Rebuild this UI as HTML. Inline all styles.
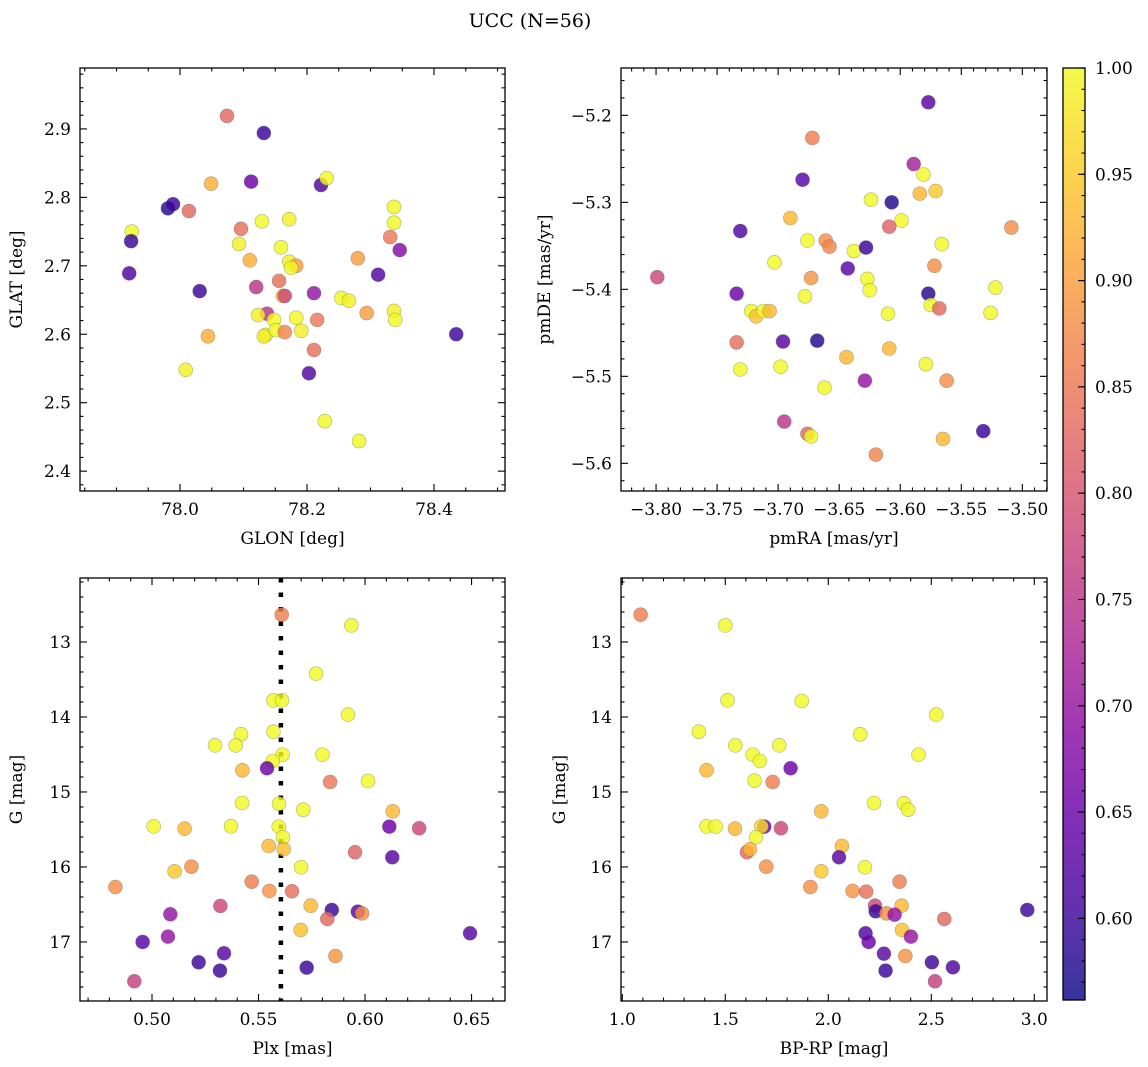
<!DOCTYPE html>
<html><head><meta charset="utf-8"><style>
html,body{margin:0;padding:0;background:#fff;}
svg{display:block;font-family:"DejaVu Serif","Liberation Serif",serif;}
</style></head><body>
<svg id="fig" width="1148" height="1067" viewBox="0 0 1148 1067" xmlns="http://www.w3.org/2000/svg">
<defs>
<linearGradient id="plasma" x1="0" y1="1" x2="0" y2="0">
<stop offset="0" stop-color="#0d0887"/><stop offset="0.1" stop-color="#41049d"/><stop offset="0.2" stop-color="#6a00a8"/><stop offset="0.3" stop-color="#8f0da4"/><stop offset="0.4" stop-color="#b12a90"/><stop offset="0.5" stop-color="#cc4778"/><stop offset="0.6" stop-color="#e16462"/><stop offset="0.7" stop-color="#f2844b"/><stop offset="0.8" stop-color="#fca636"/><stop offset="0.9" stop-color="#fcce25"/><stop offset="1" stop-color="#f0f921"/>
</linearGradient>
</defs>
<text x="530" y="27" font-size="19" text-anchor="middle">UCC (N=56)</text>
</svg>
<script>
// ---- data ----
const glon=[78.074,78.132,78.049,78.112,77.981,77.989,77.924,78.014,78.222,78.231,78.129,78.172,78.096,77.923,78.093,78.159,78.337,78.337,78.346,77.920,78.110,78.172,78.183,78.175,78.280,78.331,78.031,78.120,78.156,78.162,78.165,78.254,78.266,78.312,78.211,78.137,78.123,78.183,78.216,78.148,78.337,78.339,78.294,78.044,78.135,78.132,78.151,78.165,78.191,78.211,78.435,78.203,78.009,78.228,78.282];
const glat=[2.919,2.894,2.820,2.823,2.784,2.790,2.750,2.780,2.818,2.828,2.765,2.768,2.754,2.736,2.732,2.727,2.786,2.763,2.723,2.689,2.708,2.706,2.700,2.697,2.711,2.742,2.663,2.669,2.678,2.656,2.656,2.653,2.649,2.687,2.660,2.630,2.628,2.624,2.621,2.621,2.634,2.621,2.631,2.597,2.599,2.597,2.606,2.603,2.605,2.577,2.600,2.543,2.548,2.473,2.444];
const probTL=[.83,.60,.92,.65,.58,.60,1,.83,.62,1,1,.99,.84,.60,.99,1,1,1,.68,.62,.92,.99,.90,1,.90,.85,.60,.75,.84,.95,.78,1,.99,.62,.70,.75,.99,1,.85,1,.99,1,.90,.92,1,.99,1,.87,.99,.84,.60,.62,.99,1,1];

const pmra=[-3.577,-3.672,-3.589,-3.581,-3.680,-3.584,-3.571,-3.624,-3.607,-3.690,-3.599,-3.609,-3.509,-3.731,-3.676,-3.661,-3.658,-3.638,-3.628,-3.566,-3.703,-3.643,-3.572,-3.799,-3.673,-3.627,-3.625,-3.678,-3.734,-3.577,-3.522,-3.722,-3.718,-3.712,-3.707,-3.575,-3.568,-3.610,-3.526,-3.734,-3.696,-3.668,-3.609,-3.644,-3.731,-3.698,-3.579,-3.629,-3.562,-3.662,-3.695,-3.676,-3.673,-3.532,-3.565,-3.620];
const pmde=[-5.185,-5.226,-5.256,-5.268,-5.274,-5.290,-5.287,-5.297,-5.300,-5.318,-5.321,-5.328,-5.329,-5.333,-5.344,-5.344,-5.351,-5.356,-5.352,-5.348,-5.369,-5.376,-5.373,-5.386,-5.387,-5.388,-5.401,-5.408,-5.405,-5.405,-5.398,-5.425,-5.431,-5.425,-5.425,-5.418,-5.422,-5.428,-5.427,-5.461,-5.460,-5.459,-5.468,-5.478,-5.492,-5.489,-5.486,-5.505,-5.505,-5.513,-5.552,-5.566,-5.569,-5.563,-5.572,-5.590];
const probTR=[.63,.86,.72,1,.63,.93,.95,1,.58,.93,1,.82,.88,.62,1,.88,.87,1,.60,1,1,.63,.88,.78,.89,1,1,1,.65,.58,1,1,.94,1,.93,1,.83,1,1,.84,.63,.58,.93,.93,1,1,1,.70,.88,1,.75,.83,1,.60,.93,.87];

const plx=[.5609,.5936,.5770,.5570,.5610,.5920,.5570,.5418,.5296,.5393,.5613,.5800,.5567,.5540,.5424,.5836,.6014,.5423,.5596,.5710,.6130,.5008,.5153,.5371,.5595,.6114,.6254,.5615,.5548,.5618,.5953,.6128,.5106,.5185,.5700,.4828,.5468,.5551,.5657,.5321,.5745,.5844,.5966,.5986,.5823,.5086,.5698,.5075,.4956,.6493,.5338,.5219,.5319,.5726,.5861,.4917];
const gmagBL=[12.636,12.778,13.422,13.778,13.778,13.969,14.196,14.231,14.378,14.378,14.502,14.502,14.587,14.684,14.711,14.867,14.853,15.147,15.156,15.236,15.258,15.458,15.489,15.458,15.462,15.462,15.484,15.604,15.720,15.764,15.804,15.871,16.058,15.996,16.004,16.267,16.196,16.320,16.324,16.520,16.516,16.573,16.596,16.618,16.693,16.631,16.840,16.929,17.000,16.884,17.151,17.271,17.382,17.342,17.187,17.524];
const probBL=[.86,1,1,1,1,1,1,1,1,1,1,1,1,.65,.93,.85,1,1,1,1,.93,1,.93,1,1,.65,.78,1,.93,.94,.82,.63,.95,.88,1,.88,.86,.89,.84,.78,.93,.60,.63,.88,.83,.70,.94,.70,.63,.63,.63,.60,.60,.60,.89,.77];
const plxMean=0.5605;

const bprp=[1.089,1.500,1.511,1.871,2.524,1.372,2.155,1.549,1.762,1.633,1.668,2.438,1.817,1.409,1.642,1.730,2.222,2.367,2.388,1.966,1.409,1.453,1.547,1.689,1.675,1.770,1.649,1.605,1.620,2.066,2.052,1.699,2.178,1.966,2.346,1.913,2.118,2.184,2.227,2.356,2.230,2.282,2.322,2.966,2.563,2.358,2.181,2.196,2.401,2.270,2.374,2.503,2.605,2.278,2.518];
const gmagBR=[12.636,12.778,13.778,13.787,13.969,14.196,14.231,14.378,14.378,14.502,14.587,14.502,14.684,14.711,14.849,14.867,15.147,15.151,15.236,15.258,15.458,15.462,15.489,15.462,15.458,15.484,15.604,15.804,15.764,15.720,15.871,15.996,16.004,16.058,16.196,16.267,16.320,16.329,16.516,16.516,16.591,16.618,16.636,16.573,16.693,16.840,16.884,17.000,16.929,17.156,17.187,17.271,17.338,17.382,17.524];
const probBR=[.86,1,1,1,1,1,1,1,1,1,1,1,.65,.93,1,.86,1,1,1,.93,1,1,.93,.65,.97,.78,1,.83,.93,.93,.63,.88,1,.95,.86,.88,.89,.84,.78,.93,.60,.88,.70,.60,.83,.94,.62,.65,.70,.63,.89,.60,.62,.60,.77];

const cbTicks=[0.60,0.65,0.70,0.75,0.80,0.85,0.90,0.95,1.00];
const vmin=0.5616, vmax=1.0;

// ---- helpers ----
const NS="http://www.w3.org/2000/svg";
const svg=document.getElementById('fig');
function mk(tag,attrs,parent){const e=document.createElementNS(NS,tag);for(const k in attrs)e.setAttribute(k,attrs[k]);(parent||svg).appendChild(e);return e;}
const stops=[[13,8,135],[65,4,157],[106,0,168],[143,13,164],[177,42,144],[204,71,120],[225,100,98],[242,132,75],[252,166,54],[252,206,37],[240,249,33]];
function plasma(v){let t=(v-vmin)/(vmax-vmin);t=Math.max(0,Math.min(1,t))*10;const i=Math.min(9,Math.floor(t)),f=t-i;const a=stops[i],b=stops[i+1];return 'rgb('+a.map((c,k)=>Math.round(c+(b[k]-c)*f)).join(',')+')';}
function fmtNum(v,d){const s=Math.abs(v).toFixed(d);return (v<-1e-9?'\u2212':'')+s;}

function panel(o){
  const g=mk('g',{});
  
  
  const X=v=>o.x0+(v-o.xr[0])/(o.xr[1]-o.xr[0])*(o.x1-o.x0);
  const Y=v=>o.inv? o.y0+(v-o.yr[0])/(o.yr[1]-o.yr[0])*(o.y1-o.y0) : o.y1-(v-o.yr[0])/(o.yr[1]-o.yr[0])*(o.y1-o.y0);
  const clip=mk('clipPath',{id:'clip-'+o.name},g);
  mk('rect',{x:o.x0,y:o.y0,width:o.x1-o.x0,height:o.y1-o.y0},clip);
  const pts=mk('g',{'clip-path':'url(#clip-'+o.name+')'},g);
  if(o.vline!==undefined){
    const l=mk('line',{x1:X(o.vline),x2:X(o.vline),y1:o.y0,y2:o.y1,stroke:'#000','stroke-width':4.5,'stroke-dasharray':'4.5 10'},pts);
    
    
  }
  for(let i=0;i<o.xs.length;i++){
    const c=mk('circle',{cx:X(o.xs[i]),cy:Y(o.ys[i]),r:7,fill:plasma(o.p[i]),'fill-opacity':0.82,stroke:'#555','stroke-opacity':0.45,'stroke-width':0.6},pts);
    
    
  }
  const fr=mk('rect',{x:o.x0,y:o.y0,width:o.x1-o.x0,height:o.y1-o.y0,fill:'none',stroke:'#000','stroke-width':1.3},g);
  
  
  const tk=mk('g',{stroke:'#000','stroke-width':1.1},g);
  const eps=1e-6;
  for(let v=Math.ceil(o.xr[0]/o.xmin-eps)*o.xmin; v<=o.xr[1]+eps; v+=o.xmin){
    const isMaj=Math.abs(v/o.xmaj-Math.round(v/o.xmaj))<1e-4;const L=isMaj?7:3.5;const x=X(v);
    mk('line',{x1:x,x2:x,y1:o.y1,y2:o.y1-L},tk);mk('line',{x1:x,x2:x,y1:o.y0,y2:o.y0+L},tk);
    if(isMaj){const t=mk('text',{x:x,y:o.y1+24,'font-size':17,'text-anchor':'middle',stroke:'none',fill:'#000'},g);t.textContent=fmtNum(v,o.xd);
      }
  }
  for(let v=Math.ceil(o.yr[0]/o.ymin-eps)*o.ymin; v<=o.yr[1]+eps; v+=o.ymin){
    const isMaj=Math.abs(v/o.ymaj-Math.round(v/o.ymaj))<1e-4;const L=isMaj?7:3.5;const y=Y(v);
    mk('line',{x1:o.x0,x2:o.x0+L,y1:y,y2:y},tk);mk('line',{x1:o.x1,x2:o.x1-L,y1:y,y2:y},tk);
    if(isMaj){const t=mk('text',{x:o.x0-9,y:y+6,'font-size':17,'text-anchor':'end',stroke:'none',fill:'#000'},g);t.textContent=fmtNum(v,o.yd);
      }
  }
  const xl=mk('text',{x:(o.x0+o.x1)/2,y:o.y1+53,'font-size':17,'text-anchor':'middle'},g);xl.textContent=o.xlabel;
  
  const cy=(o.y0+o.y1)/2;const yl=mk('text',{x:o.ylx,y:cy,'font-size':17,'text-anchor':'middle',transform:'rotate(-90 '+o.ylx+' '+cy+')'},g);yl.textContent=o.ylabel;
  
}

panel({name:'glon-glat-panel',x0:80,x1:505,y0:68,y1:491,xr:[77.8425,78.5118],yr:[2.371,2.989],xmaj:0.2,xmin:0.05,ymaj:0.1,ymin:0.02,xd:1,yd:1,xs:glon,ys:glat,p:probTL,xlabel:'GLON [deg]',ylabel:'GLAT [deg]',ylx:22});
panel({name:'proper-motion-panel',x0:621,x1:1047,y0:68,y1:491,xr:[-3.8287,-3.4798],yr:[-5.6318,-5.1456],xmaj:0.05,xmin:0.01,ymaj:0.1,ymin:0.02,xd:2,yd:1,xs:pmra,ys:pmde,p:probTR,xlabel:'pmRA [mas/yr]',ylabel:'pmDE [mas/yr]',ylx:550});
panel({name:'plx-g-panel',x0:80,x1:505,y0:578,y1:1001,xr:[0.4662,0.6657],yr:[12.147,17.787],inv:true,xmaj:0.05,xmin:0.01,ymaj:1,ymin:0.2,xd:2,yd:0,xs:plx,ys:gmagBL,p:probBL,vline:plxMean,xlabel:'Plx [mas]',ylabel:'G [mag]',ylx:22});
panel({name:'cmd-panel',x0:621,x1:1047,y0:578,y1:1001,xr:[0.9937,3.0617],yr:[12.147,17.787],inv:true,xmaj:0.5,xmin:0.1,ymaj:1,ymin:0.2,xd:1,yd:0,xs:bprp,ys:gmagBR,p:probBR,xlabel:'BP-RP [mag]',ylabel:'G [mag]',ylx:565});

// colorbar
const cb=mk('g',{});


const cx0=1063,cx1=1085,cy0=68,cy1=1000;
mk('rect',{x:cx0,y:cy0,width:cx1-cx0,height:cy1-cy0,fill:'url(#plasma)','fill-opacity':0.82},cb);
mk('rect',{x:cx0,y:cy0,width:cx1-cx0,height:cy1-cy0,fill:'none',stroke:'#000','stroke-width':1.3},cb);
const CY=v=>cy1-(v-vmin)/(vmax-vmin)*(cy1-cy0);
for(let v=0.57;v<=vmax+1e-6;v+=0.01){const y=CY(v);mk('line',{x1:cx1,x2:cx1-3.5,y1:y,y2:y,stroke:'#000','stroke-width':1.1},cb);}
cbTicks.forEach(v=>{const y=CY(v);mk('line',{x1:cx1,x2:cx1-7,y1:y,y2:y,stroke:'#000','stroke-width':1.1},cb);
  const t=mk('text',{x:cx1+10,y:y+6,'font-size':17},cb);t.textContent=v.toFixed(2);
  });
</script>
</body></html>
